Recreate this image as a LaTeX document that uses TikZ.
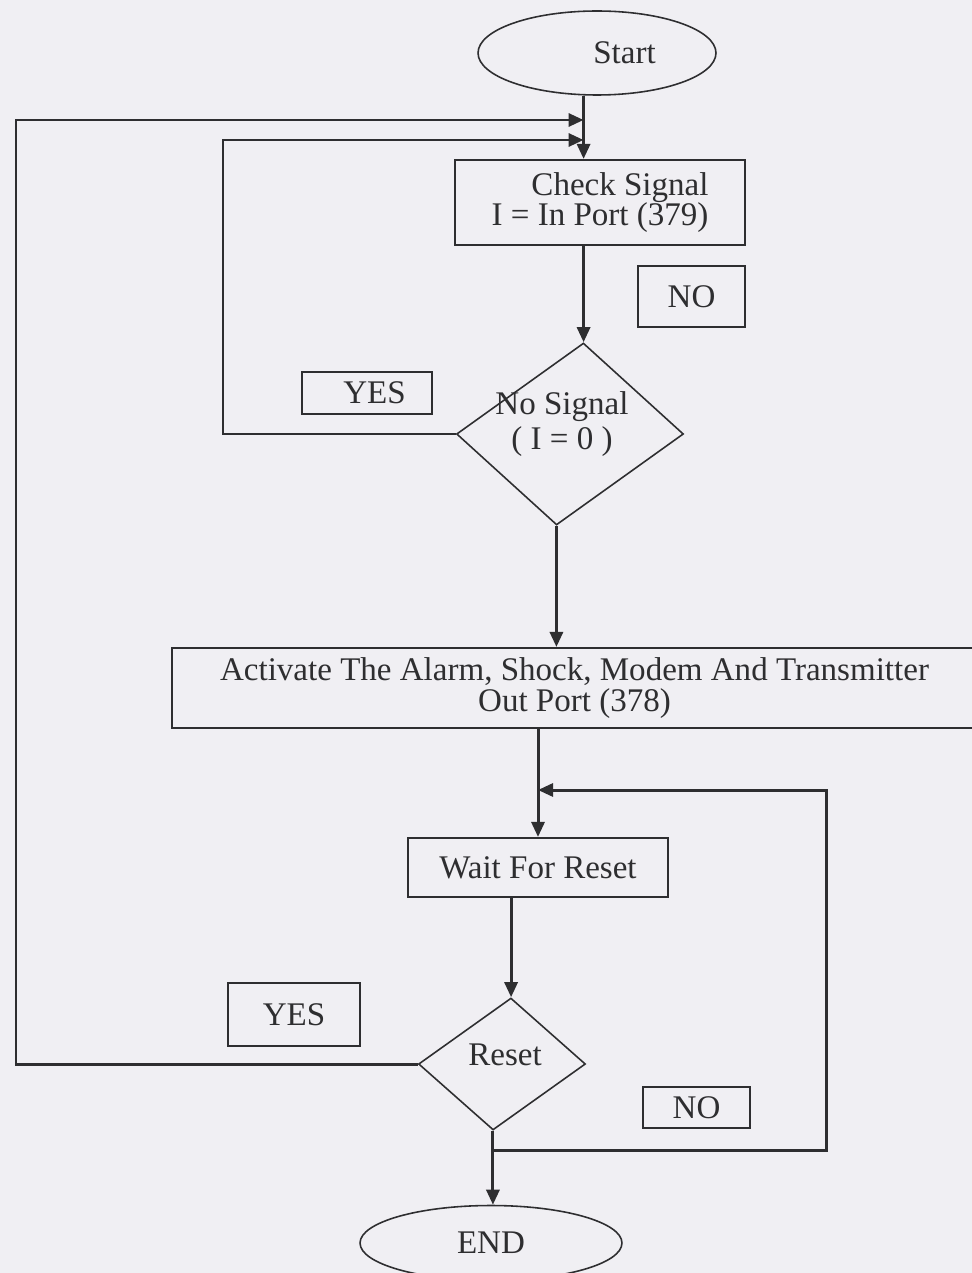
\documentclass[tikz,border=0pt]{standalone}
\usepackage{fontspec}
\setmainfont{Liberation Serif}
\usetikzlibrary{shapes.geometric,arrows.meta}
\definecolor{paper}{HTML}{F0EFF3}
\definecolor{ink}{HTML}{2E2E30}
\newcommand\flowfont{\fontsize{18.8}{17.5}\selectfont}
\tikzset{
  flow/.style={draw=ink, line width=1.7pt, -{Triangle[length=0.3cm,width=0.26cm]}},
  procbox/.style={draw=ink, line width=1.2pt, rectangle, align=center, inner sep=0pt, font=\flowfont, text=ink},
  tagbox/.style={draw=ink, line width=1.1pt, rectangle, inner sep=0pt, font=\flowfont, text=ink},
  terminal/.style={draw=ink, line width=0.9pt, ellipse, inner sep=0pt, font=\flowfont, text=ink},
  decision/.style={draw=ink, line width=0.9pt, diamond, inner sep=0pt, transform shape},
  caption/.style={align=center, inner sep=0pt, font=\flowfont, text=ink},
}
\begin{document}
\begin{tikzpicture}[x=0.02cm, y=-0.02cm]
  % page
  \fill[paper] (0,0) rectangle (972,1273);
  \useasboundingbox (0,0) rectangle (972,1273);

  % terminals and steps
  \node[terminal, minimum width=4.76cm, minimum height=1.68cm] (start) at (597,53) {\hspace*{1.1cm}Start};
  \node[procbox, minimum width=5.8cm, minimum height=1.7cm] (check) at (600,202.5) {\hspace*{0.8cm}Check Signal\\ I = In Port (379)};
  \node[tagbox, minimum width=2.14cm, minimum height=1.22cm] (no1) at (691.5,296.5) {NO};
  \node[tagbox, minimum width=2.6cm, minimum height=0.84cm] (yes1) at (367,393) {\hspace*{0.3cm}YES};

  % first decision, slightly sheared
  \begin{scope}[shift={(570,434)}, xslant=0.148]
    \node[decision, minimum width=4.54cm, minimum height=3.64cm] (sig) at (0,0) {};
  \end{scope}
  \node[caption] (sigtxt) at (562,424) {No Signal\\[2pt] ( I = 0 )};

  \node[procbox, minimum width=16.1cm, minimum height=1.6cm] (act) at (574.5,688) {Activate The Alarm, Shock, Modem And Transmitter\\ Out Port (378)};
  \node[procbox, minimum width=5.2cm, minimum height=1.18cm] (wait) at (538,867.5) {Wait For Reset};

  % second decision
  \begin{scope}[shift={(502,1064)}, xslant=0.136]
    \node[decision, minimum width=3.34cm, minimum height=2.64cm] (reset) at (0,0) {};
  \end{scope}
  \node[caption] (resettxt) at (505,1055) {Reset};

  \node[tagbox, minimum width=2.64cm, minimum height=1.26cm] (yes2) at (294,1014.5) {YES};
  \node[tagbox, minimum width=2.14cm, minimum height=0.82cm] (no2) at (696.5,1107.5) {NO};
  \node[terminal, minimum width=5.24cm, minimum height=1.5cm] (end) at (491,1243) {END};

  % loop corners
  \coordinate (outerL) at (16,120);
  \coordinate (innerL) at (223,140);
  \coordinate (noR) at (826,1150);
  \coordinate (noT) at (826,790);

  % main flow
  \draw[flow] (start.south -| sig.north) -- (check.north -| sig.north);
  \draw[flow] (check.south -| sig.north) -- (sig.north);
  \draw[flow] (sig.south) -- (sig.south |- act.north);
  \draw[flow] (act.south -| wait.north) -- (wait.north);
  \draw[flow] (wait.south -| reset.north) -- (reset.north);
  \draw[flow] (reset.south) -- (reset.south |- end.north);

  % return paths
  \draw[flow] (sig.west) -- (sig.west -| innerL) -- (innerL) -- (innerL -| sig.north);
  \draw[flow] (reset.west) -- (reset.west -| outerL) -- (outerL) -- (outerL -| sig.north);
  \draw[flow] (reset.south |- noR) -- (noR) -- (noT) -- (noT -| wait.north);
\end{tikzpicture}
\end{document}
